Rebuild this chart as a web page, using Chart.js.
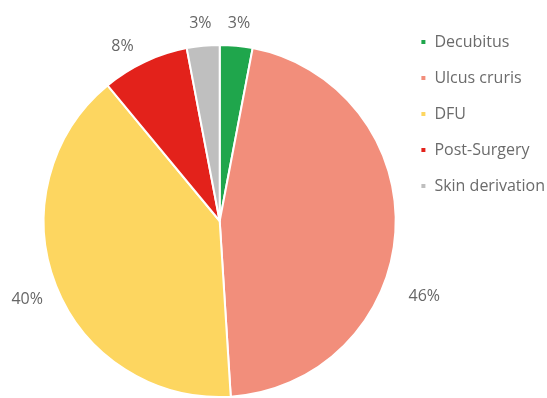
<!DOCTYPE html>
<html>
<head>
<meta charset="utf-8">
<script src="https://cdn.jsdelivr.net/npm/chart.js@4"></script>
<style>
  html, body { margin: 0; padding: 0; background: #fff; overflow: hidden; }
  #wrap { position: relative; width: 547px; height: 428px; }
</style>
</head>
<body>
<div id="wrap"><canvas id="pie"></canvas></div>
<script>
// wound types, share of patients (%)
const labels = ['Decubitus', 'Ulcus cruris', 'DFU', 'Post-Surgery', 'Skin derivation'];
const shares = [3, 46, 40, 8, 3];
const colors = ['#1fa64c', '#f28e7b', '#fdd660', '#e3221b', '#bfbfbf'];

// percent labels outside each slice
const pctLabels = {
  id: 'pctLabels',
  afterDatasetsDraw(chart, args, opts) {
    const ctx = chart.ctx;
    const meta = chart.getDatasetMeta(0);
    const total = shares.reduce((a, b) => a + b, 0);
    ctx.save();
    ctx.font = '16px "Open Sans"';
    ctx.fillStyle = '#666666';
    ctx.textAlign = 'center';
    ctx.textBaseline = 'middle';
    meta.data.forEach((arc, i) => {
      const p = arc.getProps(['x', 'y', 'startAngle', 'endAngle', 'outerRadius'], true);
      const mid = (p.startAngle + p.endAngle) / 2 + (opts.nudge[i] || 0) * Math.PI / 180;
      const txt = Math.round(shares[i] / total * 100) + '%';
      const w = ctx.measureText(txt).width;
      const dx = Math.cos(mid), dy = Math.sin(mid);
      const r = p.outerRadius + opts.gap + (opts.push[i] || 0);
      ctx.fillText(txt, p.x + dx * (r + w * 0.7), p.y + dy * (r + 8));
    });
    ctx.restore();
  }
};

new Chart(document.getElementById('pie'), {
  type: 'pie',
  data: {
    labels: labels,
    datasets: [{
      data: shares,
      backgroundColor: colors,
      borderColor: '#ffffff',
      borderWidth: 2,
      radius: 176
    }]
  },
  options: {
    responsive: true,
    maintainAspectRatio: false,
    animation: false,
    layout: { padding: { left: 39, top: 14, right: -8, bottom: 0 } },
    plugins: {
      legend: {
        position: 'right',
        align: 'start',
        labels: {
          boxWidth: 6,
          boxHeight: 6,
          padding: 20,
          color: '#6b6b6b',
          font: { family: 'Open Sans', size: 16 }
        }
      },
      tooltip: { enabled: false },
      pctLabels: { gap: 14, nudge: [0, 18, -2, -3, 0], push: [0, 8, -2, 0, 0] }
    }
  },
  plugins: [pctLabels]
});
</script>
</body>
</html>
